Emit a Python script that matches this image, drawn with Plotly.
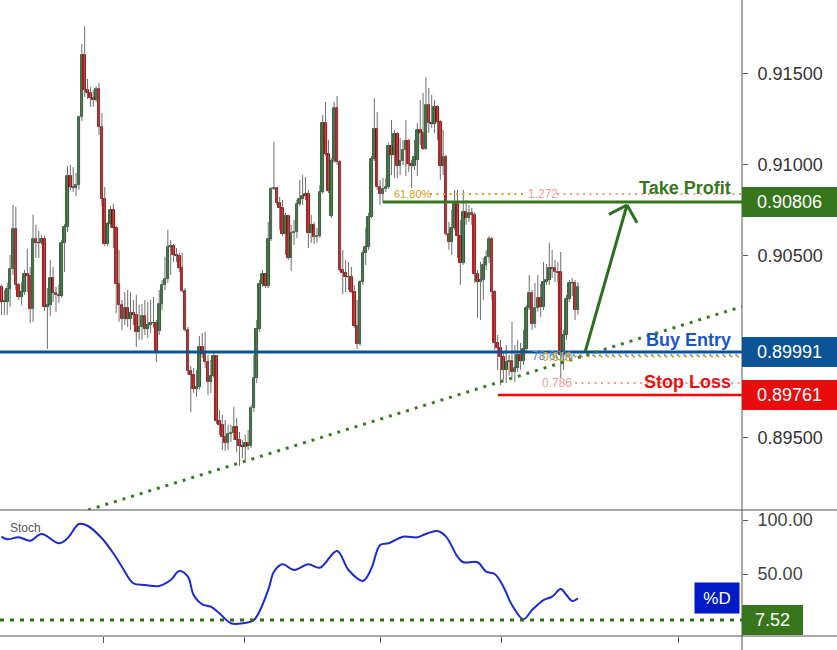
import plotly.graph_objects as go

# ---------------- data ----------------
opens = [0.90330, 0.90247, 0.90247, 0.90319, 0.90429, 0.90649, 0.90341, 0.90275, 0.90302, 0.90401,
         0.90390, 0.90209, 0.90594, 0.90572, 0.90572, 0.90594, 0.90220, 0.90231, 0.90379, 0.90297,
         0.90286, 0.90280, 0.90572, 0.90660, 0.90940, 0.90879, 0.90874, 0.90890, 0.91264, 0.91605,
         0.91412, 0.91396, 0.91368, 0.91357, 0.91418, 0.91209, 0.90814, 0.90566, 0.90676, 0.90753,
         0.90654, 0.90346, 0.90231, 0.90154, 0.90214, 0.90154, 0.90187, 0.90176, 0.90083, 0.90110,
         0.90171, 0.90099, 0.90121, 0.90132, 0.90132, 0.90088, 0.90236, 0.90341, 0.90374, 0.90550,
         0.90555, 0.90506, 0.90500, 0.90434, 0.90308, 0.90094, 0.89868, 0.89846, 0.89769, 0.89780,
         0.90000, 0.89962, 0.89918, 0.89808, 0.89841, 0.89951, 0.89594, 0.89572, 0.89506, 0.89473,
         0.89522, 0.89528, 0.89561, 0.89489, 0.89456, 0.89451, 0.89473, 0.89456, 0.89665, 0.89830,
         0.90099, 0.90346, 0.90401, 0.90335, 0.90594, 0.90868, 0.90874, 0.90792, 0.90764, 0.90621,
         0.90720, 0.90489, 0.90627, 0.90632, 0.90786, 0.90814, 0.90841, 0.90841, 0.90627, 0.90671,
         0.90605, 0.90610, 0.90852, 0.91231, 0.91061, 0.90720, 0.91022, 0.91313, 0.91017, 0.90423,
         0.90407, 0.90385, 0.90385, 0.90302, 0.90116, 0.90017, 0.90357, 0.90517, 0.90550, 0.90715,
         0.91033, 0.91198, 0.90879, 0.90841, 0.90868, 0.90879, 0.91105, 0.91055, 0.91171, 0.90995,
         0.91022, 0.91083, 0.91132, 0.91006, 0.90995, 0.91028, 0.91193, 0.91176, 0.91088, 0.91330,
         0.91231, 0.91226, 0.91319, 0.91237, 0.90995, 0.91044, 0.90621, 0.90577, 0.90654, 0.90786,
         0.90610, 0.90462, 0.90742, 0.90709, 0.90737, 0.90726, 0.90401, 0.90357, 0.90368, 0.90451,
         0.90495, 0.90594, 0.90302, 0.90022, 0.89995, 0.89945, 0.89874, 0.89918, 0.89923, 0.89863,
         0.89885, 0.89956, 0.89923, 0.89989, 0.90214, 0.90297, 0.90127, 0.90214, 0.90269, 0.90220,
         0.90357, 0.90368, 0.90434, 0.90434, 0.90412, 0.90412, 0.89956, 0.90066, 0.90264, 0.90352,
         0.90352, 0.90203]

highs = [0.90341, 0.90313, 0.90352, 0.90506, 0.90780, 0.90770, 0.90352, 0.90357, 0.90423, 0.90539,
         0.90440, 0.90726, 0.90671, 0.90638, 0.90616, 0.90610, 0.90324, 0.90478, 0.90440, 0.90330,
         0.90341, 0.90588, 0.90676, 0.90995, 0.91000, 0.90989, 0.90956, 0.91270, 0.91665, 0.91764,
         0.91473, 0.91429, 0.91412, 0.91434, 0.91451, 0.91286, 0.90879, 0.90687, 0.90775, 0.90786,
         0.90665, 0.90533, 0.90258, 0.90302, 0.90313, 0.90302, 0.90258, 0.90286, 0.90231, 0.90236,
         0.90258, 0.90247, 0.90258, 0.90275, 0.90149, 0.90313, 0.90368, 0.90495, 0.90643, 0.90588,
         0.90566, 0.90544, 0.90517, 0.90517, 0.90324, 0.90110, 0.89896, 0.89885, 0.89874, 0.90061,
         0.90077, 0.90083, 0.89956, 0.89929, 0.89973, 0.89956, 0.89654, 0.89627, 0.89599, 0.89572,
         0.89572, 0.89671, 0.89610, 0.89533, 0.89489, 0.89517, 0.89544, 0.89682, 0.89956, 0.90149,
         0.90368, 0.90423, 0.90407, 0.90687, 0.90879, 0.91127, 0.90879, 0.90824, 0.90808, 0.90737,
         0.90726, 0.90671, 0.90698, 0.90808, 0.90918, 0.90945, 0.90934, 0.90863, 0.90726, 0.90687,
         0.90654, 0.90890, 0.91275, 0.91346, 0.91138, 0.91039, 0.91346, 0.91379, 0.91028, 0.90533,
         0.90478, 0.90467, 0.90440, 0.90341, 0.90258, 0.90368, 0.90533, 0.90654, 0.90737, 0.91050,
         0.91368, 0.91292, 0.90918, 0.90929, 0.90929, 0.91121, 0.91248, 0.91193, 0.91182, 0.91149,
         0.91138, 0.91248, 0.91143, 0.91028, 0.91138, 0.91231, 0.91357, 0.91396, 0.91484, 0.91423,
         0.91385, 0.91357, 0.91330, 0.91248, 0.91193, 0.91055, 0.90687, 0.90753, 0.90863, 0.90863,
         0.90698, 0.90863, 0.90808, 0.90780, 0.90764, 0.90742, 0.90423, 0.90467, 0.90489, 0.90533,
         0.90610, 0.90605, 0.90313, 0.90066, 0.90039, 0.89973, 0.90011, 0.89956, 0.90138, 0.90011,
         0.90039, 0.90022, 0.90094, 0.90231, 0.90396, 0.90313, 0.90352, 0.90396, 0.90346, 0.90467,
         0.90456, 0.90572, 0.90533, 0.90478, 0.90467, 0.90522, 0.90094, 0.90286, 0.90368, 0.90379,
         0.90368, 0.90357]

lows = [0.90176, 0.90176, 0.90176, 0.90220, 0.90396, 0.90313, 0.90258, 0.90231, 0.90286, 0.90302,
        0.90132, 0.90138, 0.90489, 0.90489, 0.90561, 0.90198, 0.89989, 0.90171, 0.90247, 0.90193,
        0.90242, 0.90269, 0.90412, 0.90632, 0.90863, 0.90852, 0.90830, 0.90863, 0.91242, 0.91374,
        0.91363, 0.91319, 0.91319, 0.91346, 0.91165, 0.90770, 0.90555, 0.90555, 0.90654, 0.90544,
        0.90187, 0.90138, 0.90094, 0.90121, 0.90110, 0.90094, 0.90121, 0.90000, 0.90039, 0.90039,
        0.90066, 0.90050, 0.90077, 0.90105, 0.89918, 0.90066, 0.90203, 0.90313, 0.90352, 0.90396,
        0.90467, 0.90467, 0.90412, 0.90297, 0.90083, 0.89846, 0.89643, 0.89747, 0.89725, 0.89764,
        0.89940, 0.89885, 0.89736, 0.89747, 0.89830, 0.89577, 0.89517, 0.89434, 0.89429, 0.89434,
        0.89478, 0.89489, 0.89423, 0.89346, 0.89390, 0.89379, 0.89434, 0.89445, 0.89643, 0.89802,
        0.90083, 0.90330, 0.90324, 0.90324, 0.90583, 0.90863, 0.90780, 0.90643, 0.90610, 0.90506,
        0.90478, 0.90418, 0.90561, 0.90599, 0.90775, 0.90780, 0.90808, 0.90544, 0.90572, 0.90566,
        0.90572, 0.90599, 0.90841, 0.91050, 0.90846, 0.90709, 0.91011, 0.91000, 0.90412, 0.90291,
        0.90302, 0.90313, 0.90297, 0.90105, 0.89989, 0.90006, 0.90341, 0.90451, 0.90533, 0.90709,
        0.91022, 0.90863, 0.90780, 0.90792, 0.90852, 0.90868, 0.90945, 0.90929, 0.90929, 0.90945,
        0.91000, 0.90940, 0.90962, 0.90874, 0.90973, 0.90940, 0.91110, 0.91083, 0.91083, 0.91176,
        0.91204, 0.91176, 0.91138, 0.90918, 0.90945, 0.90610, 0.90533, 0.90506, 0.90643, 0.90489,
        0.90341, 0.90451, 0.90671, 0.90687, 0.90671, 0.90352, 0.90160, 0.90149, 0.90258, 0.90423,
        0.90462, 0.90258, 0.89984, 0.89874, 0.89791, 0.89819, 0.89802, 0.89841, 0.89830, 0.89808,
        0.89863, 0.89874, 0.89901, 0.89973, 0.90203, 0.90094, 0.90105, 0.90193, 0.90165, 0.90203,
        0.90341, 0.90341, 0.90379, 0.90357, 0.90352, 0.89830, 0.89874, 0.90039, 0.90247, 0.90280,
        0.90149, 0.90176]

closes = [0.90247, 0.90247, 0.90319, 0.90429, 0.90649, 0.90341, 0.90275, 0.90302, 0.90401, 0.90390,
          0.90209, 0.90594, 0.90572, 0.90570, 0.90594, 0.90220, 0.90231, 0.90379, 0.90297, 0.90286,
          0.90280, 0.90572, 0.90660, 0.90940, 0.90879, 0.90874, 0.90890, 0.91264, 0.91605, 0.91412,
          0.91396, 0.91368, 0.91357, 0.91418, 0.91209, 0.90814, 0.90566, 0.90676, 0.90753, 0.90654,
          0.90346, 0.90231, 0.90154, 0.90214, 0.90154, 0.90187, 0.90176, 0.90083, 0.90110, 0.90171,
          0.90099, 0.90121, 0.90132, 0.90130, 0.89973, 0.90236, 0.90341, 0.90374, 0.90550, 0.90555,
          0.90506, 0.90500, 0.90434, 0.90308, 0.90094, 0.89868, 0.89846, 0.89769, 0.89780, 0.90000,
          0.89962, 0.89918, 0.89808, 0.89841, 0.89951, 0.89594, 0.89572, 0.89506, 0.89473, 0.89522,
          0.89528, 0.89561, 0.89489, 0.89456, 0.89451, 0.89473, 0.89456, 0.89665, 0.89830, 0.90099,
          0.90346, 0.90401, 0.90335, 0.90594, 0.90868, 0.90874, 0.90792, 0.90764, 0.90621, 0.90720,
          0.90489, 0.90627, 0.90632, 0.90786, 0.90814, 0.90830, 0.90830, 0.90627, 0.90671, 0.90605,
          0.90610, 0.90852, 0.91231, 0.91061, 0.90857, 0.91022, 0.91313, 0.91017, 0.90423, 0.90407,
          0.90385, 0.90383, 0.90302, 0.90116, 0.90017, 0.90357, 0.90517, 0.90550, 0.90715, 0.91033,
          0.91198, 0.90879, 0.90841, 0.90868, 0.90879, 0.91105, 0.91055, 0.91171, 0.90995, 0.91022,
          0.91083, 0.91132, 0.91006, 0.90995, 0.91044, 0.91193, 0.91176, 0.91088, 0.91330, 0.91231,
          0.91226, 0.91319, 0.91237, 0.90995, 0.91044, 0.90621, 0.90577, 0.90654, 0.90786, 0.90610,
          0.90462, 0.90742, 0.90709, 0.90737, 0.90726, 0.90401, 0.90357, 0.90368, 0.90451, 0.90495,
          0.90594, 0.90302, 0.90022, 0.89995, 0.89945, 0.89874, 0.89918, 0.89923, 0.89863, 0.89885,
          0.89956, 0.89923, 0.89989, 0.90214, 0.90297, 0.90127, 0.90214, 0.90269, 0.90220, 0.90357,
          0.90368, 0.90434, 0.90432, 0.90412, 0.90410, 0.89956, 0.90066, 0.90264, 0.90352, 0.90350,
          0.90203, 0.90330]

bar_index = list(range(len(closes)))

# Stochastic %D (bar index, value)
stoch_bars = [0, 2, 6, 10, 14, 20, 23, 27, 30, 35, 39, 42, 46, 50, 55, 59, 62, 65, 67, 70,
              73, 76, 80, 84, 88, 93, 95, 98, 102, 107, 111, 117, 121, 126, 129, 132, 135, 140, 145, 148,
              152, 155, 159, 161, 166, 169, 172, 175, 178, 182, 185, 189, 192, 195, 197, 199, 201]
stoch_d = [84.6, 82.2, 84.0, 80.9, 87.1, 78.5, 83.1, 96.3, 94.7, 83.1, 69.2, 56.8, 41.5, 39.9, 39.0, 44.5,
           52.8, 47.6, 30.6, 22.0, 19.8, 13.7, 4.5, 4.5, 7.5, 35.3, 52.2, 59.0, 53.8, 59.0, 55.9, 71.3,
           53.8, 43.6, 55.3, 76.9, 78.5, 84.6, 84.0, 87.1, 89.8, 84.6, 66.1, 60.9, 60.9, 52.2, 50.1, 38.3,
           21.4, 8.2, 16.8, 26.0, 29.1, 36.2, 30.6, 25.1, 27.6]

price_ticks = [0.895, 0.905, 0.910, 0.915]
price_tick_text = ["0.89500", "0.90500", "0.91000", "0.91500"]
stoch_ticks = [50, 100]
stoch_tick_text = ["50.00", "100.00"]
time_ticks = [35.4, 84.9, 132.0, 174.5, 235.9]
time_tick_text = ["14", "4", "22", "1", "17"]

# Trade drawing levels
take_profit_level = 0.90797
buy_entry_level = 0.89973
stop_loss_level = 0.89736
take_profit_text = "0.90806"
buy_entry_text = "0.89991"
stop_loss_text = "0.89761"
fib_618_level = 0.90841
fib_786_entry_level = 0.89955
fib_618_entry_level = 0.89947
fib_786_level = 0.89802
stoch_last = 7.52

# trendline / arrow anchor points (bar index, price)
trend_start = (30.2, 0.89104)
trend_end = (258.2, 0.90222)
arrow_tail = (203.5, 0.89973)
arrow_tip = (218.1, 0.90780)
arrow_left = (211.8, 0.90729)
arrow_right = (221.6, 0.90682)

# ---------------- layout constants ----------------
X_LO, X_HI = -0.523, 258.2
P_LO, P_HI = 0.891041, 0.919066
S_LO, S_HI = -7.28, 109.25
SPLIT = 1 - 510 / 636
FONT = "Liberation Sans, Arial, sans-serif"

GREEN = "#38761d"
BLUE = "#0b5394"
RED = "#e80c0c"

fig = go.Figure()

# wicks
wx, wy = [], []
for i, h, l in zip(bar_index, highs, lows):
    wx += [i, i, None]
    wy += [l, h, None]
fig.add_trace(go.Scatter(x=wx, y=wy, mode="lines", line=dict(color="#6e6e6e", width=1),
                         hoverinfo="skip", xaxis="x", yaxis="y"))

# bodies
min_h = 0.00003
body_h, body_c, body_l = [], [], []
for o, c in zip(opens, closes):
    d = c - o
    up = d >= 0
    if abs(d) < min_h:
        d = min_h if up else -min_h
    body_h.append(d)
    body_c.append("#2a7a2e" if up else "#ff0000")
    body_l.append("#17451a" if up else "#6e0000")
fig.add_trace(go.Bar(x=bar_index, y=body_h, base=opens, width=0.9,
                     marker=dict(color=body_c, line=dict(color=body_l, width=0.8)),
                     xaxis="x", yaxis="y", hoverinfo="skip"))

# stochastic
fig.add_trace(go.Scatter(x=stoch_bars, y=stoch_d, mode="lines",
                         line=dict(color="#1a2bd0", width=2, shape="spline", smoothing=1.0),
                         xaxis="x2", yaxis="y2", hoverinfo="skip"))

shapes = []
def hline(y, x0, x1, color, width, dash="solid", yref="y"):
    shapes.append(dict(type="line", xref="x", yref=yref, x0=x0, x1=x1, y0=y, y1=y,
                       line=dict(color=color, width=width, dash=dash)))

# fib dotted levels
hline(fib_618_level, 149.4, 182.5, "#d4a017", 2, "2px,4.5px")
hline(fib_618_level, 193.7, X_HI, "#f29a9a", 2, "2px,4.5px")
hline(fib_786_entry_level, 194.7, X_HI, "#5b9bd5", 2, "2px,4.5px")
hline(fib_618_entry_level, 197.5, X_HI, "#d4a017", 2, "2px,4.5px")
hline(fib_786_level, 200.0, X_HI, "#f29a9a", 2, "2px,4.5px")

# trade lines
hline(buy_entry_level, X_LO, X_HI, BLUE, 3)
hline(take_profit_level, 133.0, X_HI, GREEN, 3)
hline(stop_loss_level, 173.1, X_HI, "#ff0000", 2.5)

# trendline
shapes.append(dict(type="line", xref="x", yref="y", x0=trend_start[0], y0=trend_start[1],
                   x1=trend_end[0], y1=trend_end[1], line=dict(color="#3a7d22", width=3, dash="3px,6px")))
# arrow
for a, b in [(arrow_tail, arrow_tip), (arrow_tip, arrow_left), (arrow_tip, arrow_right)]:
    shapes.append(dict(type="line", xref="x", yref="y", x0=a[0], y0=a[1], x1=b[0], y1=b[1],
                       line=dict(color="#2b6e22", width=3)))

# stoch level
hline(stoch_last, X_LO, X_HI, "#2f6e14", 3, "4px,6px", yref="y2")

# frame lines
RX = 837 / 742
shapes.append(dict(type="line", xref="paper", yref="paper", x0=0, x1=RX, y0=SPLIT, y1=SPLIT,
                   line=dict(color="#555555", width=1)))
shapes.append(dict(type="line", xref="paper", yref="paper", x0=0, x1=RX, y0=0, y1=0,
                   line=dict(color="#555555", width=1)))
shapes.append(dict(type="line", xref="paper", yref="paper", x0=1, x1=1, y0=-0.05, y1=1,
                   line=dict(color="#555555", width=1)))

annotations = []
def text(x, y, s, color, size, xanchor="left", bold=False, yref="y", xref="x"):
    annotations.append(dict(x=x, y=y, xref=xref, yref=yref, text=f"<b>{s}</b>" if bold else s,
                            showarrow=False, xanchor=xanchor, yanchor="middle",
                            font=dict(family=FONT, size=size, color=color)))

text(136.2, fib_618_level, "61.80%", "#d4a017", 11)
text(182.9, fib_618_level, "1.272", "#f29a9a", 12)
text(184.3, 0.89951, "78.60%", "#4a8fd8", 12)
text(187.8, 0.89945, "0.618", "#d4a017", 12)
text(187.8, fib_786_level, "0.786", "#f29a9a", 12)

text(733 / 742, 0.90873, "Take Profit", GREEN, 18, "right", True, xref="paper")
text(733 / 742, 0.90039, "Buy Entry", "#1a55c8", 18, "right", True, xref="paper")
text(733 / 742, 0.89808, "Stop Loss", "#ee1111", 18, "right", True, xref="paper")

def box(y, s, color, w, yref="y"):
    annotations.append(dict(x=1, y=y, xref="paper", yref=yref, text=s, showarrow=False,
                            xanchor="left", yanchor="middle", width=w, height=30, align="center",
                            bgcolor=color, borderpad=0, borderwidth=0,
                            font=dict(family=FONT, size=18, color="white")))

box(take_profit_level, take_profit_text, GREEN, 95)
box(buy_entry_level, buy_entry_text, BLUE, 95)
box(stop_loss_level, stop_loss_text, RED, 95)
box(stoch_last, f"{stoch_last:.2f}", GREEN, 61, yref="y2")

annotations.append(dict(x=717 / 742, y=27.9, xref="paper", yref="y2", text="%D", showarrow=False,
                        xanchor="center", yanchor="middle", width=44, height=30, bgcolor="#001ac6",
                        borderpad=0, font=dict(family=FONT, size=17, color="white")))
annotations.append(dict(x=8 / 742, y=100 - 7.7 / 1.0813, xref="paper", yref="y2", text="Stoch",
                        showarrow=False, xanchor="left", yanchor="middle",
                        font=dict(family=FONT, size=12, color="#555555")))

axis_common = dict(showgrid=False, zeroline=False, automargin=False)
fig.update_layout(
    width=837, height=650, margin=dict(l=0, r=95, t=0, b=14, autoexpand=False),
    paper_bgcolor="white", plot_bgcolor="white", showlegend=False,
    font=dict(family=FONT),
    xaxis=dict(domain=[0, 1], anchor="y", range=[X_LO, X_HI], showticklabels=False, ticks="",
               **axis_common),
    xaxis2=dict(domain=[0, 1], anchor="y2", range=[X_LO, X_HI], tickvals=time_ticks,
                ticktext=time_tick_text, ticks="outside", ticklen=6, tickcolor="#555555",
                tickfont=dict(size=13, color="#555555"), ticklabelstandoff=3, **axis_common),
    yaxis=dict(domain=[SPLIT, 1], anchor="x", side="right", range=[P_LO, P_HI],
               tickvals=price_ticks, ticktext=price_tick_text, ticks="outside", ticklen=5,
               tickcolor="#555555", tickfont=dict(size=18, color="#333333"),
               ticklabelstandoff=6, **axis_common),
    yaxis2=dict(domain=[0, SPLIT], anchor="x2", side="right", range=[S_LO, S_HI],
                tickvals=stoch_ticks, ticktext=stoch_tick_text, ticks="outside", ticklen=5,
                tickcolor="#555555", tickfont=dict(size=18, color="#444444"),
                ticklabelstandoff=6, **axis_common),
    shapes=shapes, annotations=annotations, bargap=0,
)

post = (
    "document.documentElement.style.margin='0px';"
    "document.documentElement.style.overflow='hidden';"
    "document.body.style.margin='0px';"
    "document.body.style.overflow='hidden';"
    "var gd=document.getElementById('{plot_id}');"
    "gd.style.overflow='hidden';"
)
fig.write_html("out.html", config={"displayModeBar": False}, post_script=post)
